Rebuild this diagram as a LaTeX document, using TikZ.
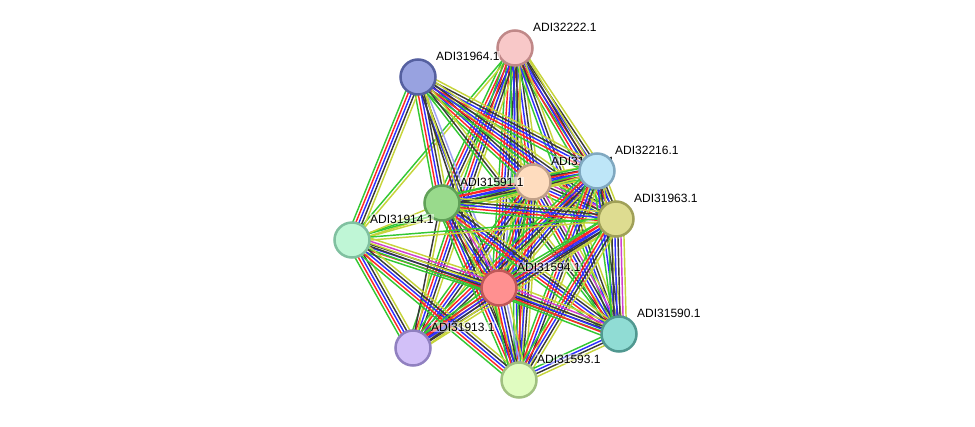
\documentclass[tikz,border=0pt]{standalone}
\usepackage{fontspec}
\setmainfont{Liberation Sans}
\usetikzlibrary{calc}
\pgfdeclarelayer{bg}
\pgfsetlayers{bg,main}
\definecolor{eG}{HTML}{33C833}
\definecolor{eR}{HTML}{FF2626}
\definecolor{eB}{HTML}{2F2FFF}
\definecolor{eK}{HTML}{3A3A3A}
\definecolor{eY}{HTML}{C6D43A}
\definecolor{eM}{HTML}{D040D0}
\definecolor{eL}{HTML}{A0A0F4}
\tikzset{
  prot/.style={circle, minimum size=35pt, inner sep=0pt, line width=2.5pt},
  lab/.style={anchor=west, inner xsep=0.5pt, inner ysep=0.5pt, font=\fontsize{12}{12}\selectfont,
    fill=white, fill opacity=0.5, text opacity=1},
  eline/.style={line width=1.45pt},
}
\newcommand\bund[3]{%
  \foreach \c [count=\i] in {#3} {\xdef\nb{\i}}%
  \foreach \c [count=\i] in {#3} {%
    \pgfmathsetmacro\off{(\i-(\nb+1)/2)*3.0}%
    \draw[eline, \c] ($(#1)!\off pt!90:(#2)$) -- ($(#2)!\off pt!-90:(#1)$);
  }}
\newcommand\plab[2]{\node[lab] (#1-l) at ($(#1)+(17.5,-21)$) {#2};}
\begin{document}
\begin{tikzpicture}[x=1pt,y=-1pt]
\useasboundingbox (0,0) rectangle (975,426);
% nodes
\node[prot, fill={rgb,255:red,248;green,200;blue,200}, draw={rgb,255:red,192;green,136;blue,136}] (a) at (515,48) {};
\node[prot, fill={rgb,255:red,152;green,162;blue,224}, draw={rgb,255:red,85;green,96;blue,160}] (b) at (418,77) {};
\node[prot, fill={rgb,255:red,254;green,220;blue,190}, draw={rgb,255:red,192;green,160;blue,136}] (c) at (533,182) {};
\plab{c}{ADI31592.1}
\node[prot, fill={rgb,255:red,190;green,230;blue,248}, draw={rgb,255:red,128;green,168;blue,192}] (d) at (597,171) {};
\node[prot, fill={rgb,255:red,153;green,218;blue,140}, draw={rgb,255:red,96;green,160;blue,88}] (e) at (442,203) {};
\node[prot, fill={rgb,255:red,222;green,220;blue,144}, draw={rgb,255:red,160;green,160;blue,88}] (f) at (616,219) {};
\node[prot, fill={rgb,255:red,191;green,246;blue,214}, draw={rgb,255:red,128;green,192;blue,160}] (g) at (352,240) {};
\node[prot, fill={rgb,255:red,255;green,144;blue,144}, draw={rgb,255:red,192;green,88;blue,88}] (h) at (499,288) {};
\node[prot, fill={rgb,255:red,144;green,220;blue,212}, draw={rgb,255:red,80;green,152;blue,144}] (i) at (619,334) {};
\node[prot, fill={rgb,255:red,210;green,192;blue,248}, draw={rgb,255:red,144;green,128;blue,192}] (j) at (413,348) {};
\node[prot, fill={rgb,255:red,224;green,252;blue,192}, draw={rgb,255:red,160;green,192;blue,128}] (k) at (519,380) {};
% labels
\plab{a}{ADI32222.1}
\plab{b}{ADI31964.1}
\plab{d}{ADI32216.1}
\plab{e}{ADI31591.1}
\plab{f}{ADI31963.1}
\plab{g}{ADI31914.1}
\plab{h}{ADI31594.1}
\plab{i}{ADI31590.1}
\plab{j}{ADI31913.1}
\plab{k}{ADI31593.1}
% edges
\begin{pgfonlayer}{bg}
\fill[white] (0,0) rectangle (975,426);
\bund{a}{c}{eG,eR,eB,eK,eY}
\bund{a}{d}{eG,eR,eB,eK,eY}
\bund{a}{e}{eG,eR,eB,eK,eY}
\bund{a}{f}{eG,eR,eB,eK,eY}
\bund{a}{g}{eG,eY}
\bund{a}{h}{eG,eR,eB,eK,eL,eY}
\bund{a}{i}{eG,eB,eK,eY}
\bund{a}{j}{eG,eR,eB,eK,eY}
\bund{a}{k}{eG,eB,eK,eY}
\bund{b}{c}{eG,eR,eB,eK,eY}
\bund{b}{d}{eG,eR,eB,eK,eY}
\bund{b}{e}{eG,eR,eB,eK,eY}
\bund{b}{f}{eG,eR,eB,eK,eY}
\bund{b}{g}{eG,eR,eB,eK,eY}
\bund{b}{h}{eB,eK,eL}
\bund{b}{i}{eG,eK,eY}
\bund{b}{k}{eK,eY}
\bund{c}{d}{eG,eR,eB,eK,eY}
\bund{c}{e}{eG,eR,eB,eK,eY}
\bund{c}{f}{eG,eR,eB,eK,eM,eY}
\bund{c}{g}{eG,eY}
\bund{c}{h}{eG,eR,eB,eK,eY}
\bund{c}{i}{eG,eR,eB,eK,eM,eY}
\bund{c}{j}{eG,eR,eB,eK,eY}
\bund{c}{k}{eG,eR,eB,eK,eY}
\bund{d}{e}{eG,eR,eB,eK,eY}
\bund{d}{f}{eG,eR,eB,eK,eY}
\bund{d}{g}{eG,eY}
\bund{d}{h}{eG,eR,eB,eK,eY}
\bund{d}{i}{eG,eB,eK,eY}
\bund{d}{j}{eG,eR,eB,eK,eY}
\bund{d}{k}{eG,eR,eB,eK,eY}
\bund{e}{f}{eG,eR,eB,eK,eY}
\bund{e}{g}{eY}
\bund{e}{h}{eG,eR,eB,eK,eM,eY}
\bund{e}{i}{eG,eR,eB,eK,eY}
\bund{e}{j}{eK,eY}
\bund{e}{k}{eG,eR,eB,eK,eY}
\bund{f}{g}{eG,eY}
\bund{f}{h}{eG,eR,eB,eK,eY}
\bund{f}{i}{eG,eK,eB,eK,eM,eY}
\bund{f}{j}{eG,eR,eB,eK,eY}
\bund{f}{k}{eG,eR,eB,eK,eY}
\bund{g}{h}{eG,eR,eB,eK,eM,eY}
\bund{g}{i}{eG,eK,eY}
\bund{g}{j}{eG,eR,eB,eK,eY}
\bund{g}{k}{eG,eR,eB,eK,eY}
\bund{h}{i}{eG,eR,eB,eK,eM,eY}
\bund{h}{j}{eG,eR,eB,eK,eY}
\bund{h}{k}{eG,eR,eB,eK,eL,eY}
\bund{i}{k}{eG,eB,eK,eY}
\end{pgfonlayer}
\end{tikzpicture}
\end{document}
